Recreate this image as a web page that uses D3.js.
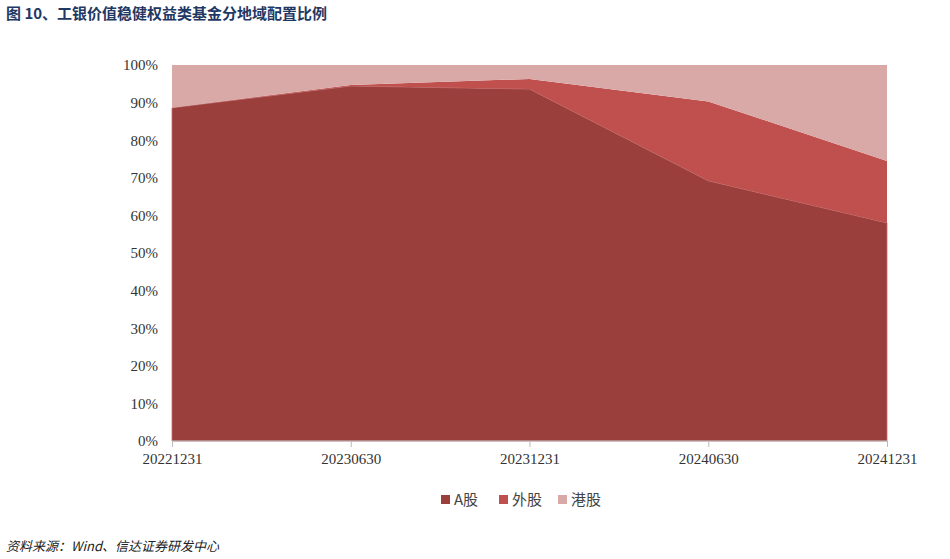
<!DOCTYPE html>
<html><head><meta charset="utf-8">
<script src="https://cdn.jsdelivr.net/npm/d3@7"></script>
<style>body{margin:0;background:#fff}svg{display:block}</style>
</head><body>
<svg id="c" width="950" height="559"></svg>
<script>
const categories=["20221231","20230630","20231231","20240630","20241231"];
const aShare=[88.6,94.4,93.6,69.2,58.0];
const foreignShare=[0.0,0.3,2.7,21.1,16.5];
const hkShare=[11.4,5.3,3.7,9.7,25.5];
const seriesNames=["A股","外股","港股"];
const colors=["#9b3f3d","#c0504d","#d9a9a8"];
const yTicks=[0,10,20,30,40,50,60,70,80,90,100];

const svg=d3.select("#c");
const font="'Times New Roman','Liberation Serif',serif";
svg.append("text").attr("x",6).attr("y",19).text("图 10、工银价值稳健权益类基金分地域配置比例")
  .attr("font-family","'Noto Sans CJK SC',sans-serif").attr("font-weight","bold").attr("font-size",15).attr("fill","#1f3864");

const x=d3.scalePoint().domain(categories).range([172,887]);
const y=d3.scaleLinear().domain([0,100]).range([441,65]);
const data=categories.map((c,i)=>({c,A:aShare[i],W:foreignShare[i],H:hkShare[i]}));
const stack=d3.stack().keys(["A","W","H"])(data);
const area=d3.area().x(d=>x(d.data.c)).y0(d=>y(d[0])).y1(d=>y(d[1]));
svg.selectAll("path.a").data(stack).join("path").attr("d",area).attr("fill",(d,i)=>colors[i])
  .attr("stroke",(d,i)=>i==0?"#c07070":"none").attr("stroke-width",0.8);

const ya=svg.append("g").attr("transform","translate(172,0)").call(d3.axisLeft(y).tickValues(yTicks).tickFormat(d=>d+"%").tickSize(0).tickPadding(14));
ya.select(".domain").remove();
ya.selectAll("text").attr("font-family",font).attr("font-size",15).attr("fill","#333");
const xa=svg.append("g").attr("transform","translate(0,441)").call(d3.axisBottom(x).tickSize(6).tickPadding(6).tickSizeOuter(0));
xa.select(".domain").attr("d","M172,0H887").attr("stroke","#bbb");
xa.selectAll("line").attr("stroke","#bbb");
xa.selectAll("text").attr("font-family",font).attr("font-size",15).attr("fill","#333");

const lg=svg.append("g");
const lx=[441,499,558];
seriesNames.forEach((n,i)=>{
  lg.append("rect").attr("x",lx[i]).attr("y",495).attr("width",9).attr("height",9).attr("fill",colors[i]);
  lg.append("text").attr("x",lx[i]+13).attr("y",505).text(n).attr("font-family","'Noto Sans CJK SC',sans-serif").attr("font-size",15).attr("fill","#444");
});
svg.append("text").attr("x",6).attr("y",551).text("资料来源：Wind、信达证券研发中心")
  .attr("font-family","'Noto Sans CJK SC',sans-serif").attr("font-style","italic").attr("font-size",13).attr("fill","#222");
</script></body></html>
